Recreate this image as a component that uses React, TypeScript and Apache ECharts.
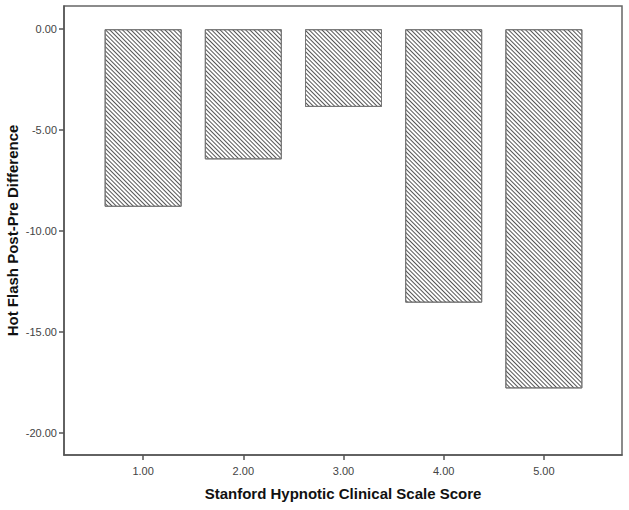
import React, { useEffect, useRef } from "react";
import * as echarts from "echarts";

const scores = [1, 2, 3, 4, 5];
const differences = [-8.8, -6.45, -3.85, -13.55, -17.8];
const yTicks = [0, -5, -10, -15, -20];
const xTicks = [1, 2, 3, 4, 5];

export default function App() {
  const ref = useRef<HTMLDivElement>(null);
  useEffect(() => {
    if (!ref.current) return;
    const chart = echarts.init(ref.current, null, { renderer: "svg" });
    const axisLine = { show: true, onZero: false, lineStyle: { color: "#555", width: 1.5 } };
    chart.setOption({
      animation: false,
      backgroundColor: "#fff",
      textStyle: { fontFamily: "Liberation Sans, Arial, sans-serif" },
      grid: {
        left: 64,
        top: 6,
        right: 7,
        bottom: 55,
        containLabel: false,
        outerBoundsMode: "none",
        show: true,
        borderColor: "#666",
        borderWidth: 1.5,
        backgroundColor: "transparent",
      },
      xAxis: {
        type: "value",
        min: 0.21,
        max: 5.78,
        name: "Stanford Hypnotic Clinical Scale Score",
        nameLocation: "middle",
        nameGap: 31,
        nameMoveOverlap: false,
        nameTextStyle: { fontSize: 15, fontWeight: "bold", color: "#111" },
        axisLine,
        splitLine: { show: false },
        axisTick: {
          show: true,
          length: 5,
          customValues: xTicks,
          lineStyle: { color: "#555", width: 1.5 },
        },
        axisLabel: {
          customValues: xTicks,
          formatter: (v: number) => v.toFixed(2),
          fontSize: 11,
          color: "#444",
          margin: 10,
        },
      },
      yAxis: {
        type: "value",
        min: -21.1,
        max: 1.15,
        name: "Hot Flash Post-Pre Difference",
        nameLocation: "middle",
        nameGap: 44,
        nameMoveOverlap: false,
        nameTextStyle: { fontSize: 15, fontWeight: "bold", color: "#111" },
        axisLine,
        splitLine: { show: false },
        axisTick: {
          show: true,
          length: 5,
          customValues: yTicks,
          lineStyle: { color: "#555", width: 1.5 },
        },
        axisLabel: {
          customValues: yTicks,
          formatter: (v: number) => v.toFixed(2),
          fontSize: 11,
          color: "#444",
          margin: 7,
        },
      },
      series: [
        {
          type: "bar",
          barWidth: 77,
          data: scores.map((s, i) => [s, differences[i]]),
          itemStyle: {
            color: "#fff",
            borderColor: "#777",
            borderWidth: 1,
            decal: {
              symbol: "rect",
              symbolSize: 1,
              color: "#555",
              backgroundColor: "#fff",
              dashArrayX: [1, 0],
              dashArrayY: [1, 1.9],
              rotation: Math.PI / 4,
            },
          },
        },
      ],
    });
    return () => chart.dispose();
  }, []);
  return (
    <div
      ref={ref}
      style={{ position: "fixed", left: 0, top: 0, width: 629, height: 510 }}
    />
  );
}
